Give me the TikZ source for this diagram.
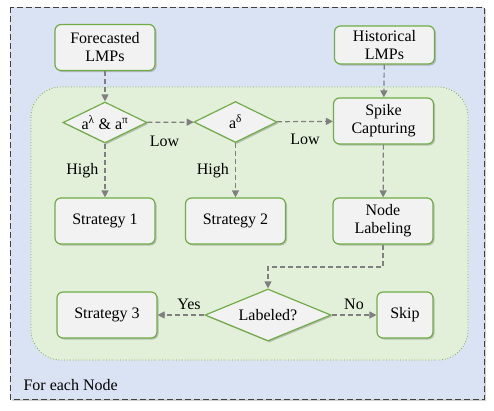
\documentclass[tikz,border=0pt]{standalone}
\usepackage{fontspec}
\setmainfont{Liberation Serif}
\usetikzlibrary{shapes.geometric,arrows.meta,shadows}
\definecolor{bgblue}{HTML}{DAE3F3}
\definecolor{loopgreen}{HTML}{E2F0D9}
\definecolor{leaf}{HTML}{70AD47}
\definecolor{boxgray}{HTML}{F2F2F2}
\definecolor{arrowgray}{HTML}{7F7F7F}
\tikzset{
  softshadow/.style={drop shadow={shadow xshift=1.5pt, shadow yshift=-1.5pt, opacity=0.35, fill=black!60}},
  stepbox/.style={draw=leaf, fill=boxgray, line width=1.2pt, rounded corners=6pt, minimum width=100pt, minimum height=46pt, inner sep=2pt, align=center, softshadow},
  choice/.style={diamond, draw=leaf, fill=boxgray, line width=1.2pt, aspect=2.4, inner sep=0pt, softshadow},
  flow/.style={draw=arrowgray, line width=1.2pt, dash pattern=on 5pt off 3pt, -{Triangle[length=7pt,width=7pt]}},
  tag/.style={inner sep=1pt}
}
\begin{document}
\begin{tikzpicture}[x=1pt, y=-1pt, font=\fontsize{16}{18}\selectfont]
\useasboundingbox (0,0) rectangle (494,410);
% outer frame and loop area
\draw[fill=bgblue, draw=black!75, line width=1pt, dash pattern=on 6pt off 3pt, drop shadow={shadow xshift=1.5pt, shadow yshift=-1.5pt, opacity=0.3, fill=black!60}] (10,7) rectangle (484,399);
\draw[fill=loopgreen, draw=leaf, line width=0.8pt, dotted, rounded corners=30pt] (31,87) rectangle (468,360);
\node[anchor=base west] (each) at (20,390) {For each Node};
% steps
\node[stepbox] (fcast) at (105,47.5) {Forecasted\\LMPs};
\node[stepbox, minimum height=38pt] (hist) at (384.5,45) {Historical\\LMPs};
\node[choice, aspect=2, minimum width=84pt, minimum height=41pt] (ratio) at (105,122.5) {a\textsuperscript{λ} \& a\textsuperscript{π}};
\node[choice, minimum width=83pt, minimum height=41pt] (delta) at (235.5,122) {a\textsuperscript{δ}};
\node[stepbox] (spike) at (383.5,121) {Spike\\Capturing};
\node[stepbox] (s1) at (105,221) {Strategy 1};
\node[stepbox] (s2) at (235.5,221) {Strategy 2};
\node[stepbox] (label) at (383,221) {Node\\Labeling};
\node[stepbox] (s3) at (107,315) {Strategy 3};
\node[choice, minimum width=126pt, minimum height=52pt] (check) at (268,315) {Labeled?};
\node[stepbox, minimum width=56pt] (skip) at (405,315) {Skip};
\coordinate (bend) at (383,267);
% connectors
\draw[flow] (fcast) -- (ratio);
\draw[flow] (hist) -- (spike);
\draw[flow] (ratio) -- node[tag, below=12pt, xshift=-6pt] {Low} (delta);
\draw[flow] (delta) -- node[tag, below=11pt] {Low} (spike);
\draw[flow] (ratio) -- node[tag, left=5pt] {High} (s1);
\draw[flow] (delta) -- node[tag, left=5pt] {High} (s2);
\draw[flow] (spike) -- (label);
\draw[flow] (label) -- (bend) -| (check);
\draw[flow] (check) -- node[tag, above=4pt, xshift=8pt] {Yes} (s3);
\draw[flow] (check) -- node[tag, above=4pt] {No} (skip);
\end{tikzpicture}
\end{document}
